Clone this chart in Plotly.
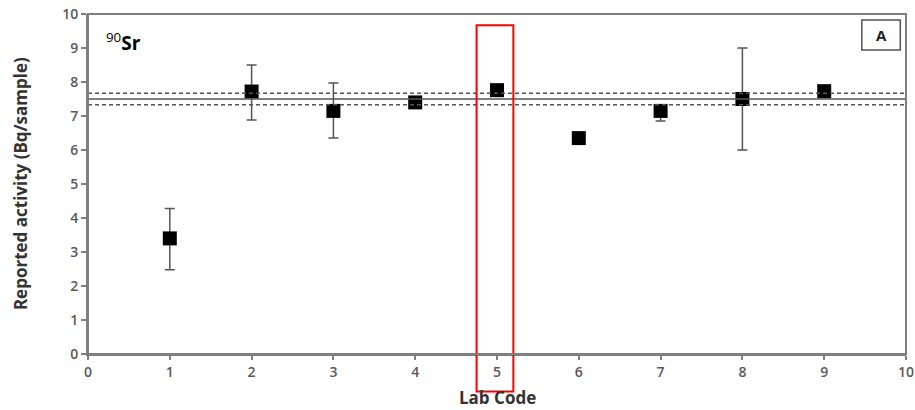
import plotly.graph_objects as go

lab_codes = [1, 2, 3, 4, 5, 6, 7, 8, 9]
activity = [3.40, 7.72, 7.15, 7.40, 7.76, 6.35, 7.15, 7.50, 7.73]
err_plus = [0.88, 0.78, 0.82, 0.12, 0.0, 0.0, 0.12, 1.50, 0.0]
err_minus = [0.92, 0.84, 0.80, 0.12, 0.0, 0.0, 0.30, 1.50, 0.0]
ref_value = 7.50
ref_low = 7.33
ref_high = 7.67
x_ticks = list(range(0, 11))
y_ticks = list(range(0, 11))

font_family = "Open Sans, Liberation Sans, sans-serif"

fig = go.Figure()

fig.add_trace(go.Scatter(
    x=lab_codes, y=activity, mode="markers",
    marker=dict(symbol="square", size=14, color="black"),
    error_y=dict(type="data", symmetric=False, array=err_plus, arrayminus=err_minus,
                 color="#555555", thickness=1.5, width=5),
    showlegend=False, hoverinfo="skip",
))

# reference lines
fig.add_hline(y=ref_value, line=dict(color="#555555", width=1.5))
fig.add_hline(y=ref_low, line=dict(color="#555555", width=1.5, dash="4px,3px"))
fig.add_hline(y=ref_high, line=dict(color="#555555", width=1.5, dash="4px,3px"))

# highlight rectangle around lab 5
fig.add_shape(type="rect", xref="x", yref="paper", x0=4.75, x1=5.2, y0=-0.11, y1=0.967,
              line=dict(color="red", width=2), fillcolor="rgba(0,0,0,0)", layer="above")

# plot frame
fig.add_shape(type="rect", xref="paper", yref="paper", x0=0, x1=1, y0=0, y1=1,
              line=dict(color="#7f7f7f", width=2), layer="above")

# panel label box
fig.add_shape(type="rect", xref="paper", yref="paper", x0=0.946, x1=0.993, y0=0.894, y1=0.982,
              line=dict(color="#555555", width=1.5), fillcolor="white", layer="above")
fig.add_annotation(xref="paper", yref="paper", x=0.9695, y=0.938, xanchor="center", yanchor="middle",
                   text="<b>A</b>", showarrow=False,
                   font=dict(family=font_family, size=15, color="#222222"))

fig.add_annotation(xref="paper", yref="paper", x=0.02, y=0.965, xanchor="left", yanchor="top",
                   text="<sup>90</sup><b>Sr</b>", showarrow=False,
                   font=dict(family=font_family, size=19, color="black"))

# axis titles
fig.add_annotation(xref="x", yref="paper", x=5, y=-0.129, xanchor="center", yanchor="middle",
                   text="<b>Lab Code</b>", showarrow=False,
                   font=dict(family=font_family, size=17, color="#333333"))
fig.add_annotation(xref="paper", yref="paper", x=-0.083, y=0.5, xanchor="center", yanchor="middle",
                   textangle=-90,
                   text="<b>Reported activity (Bq/sample)</b>", showarrow=False,
                   font=dict(family=font_family, size=17, color="#333333"))

tickfont = dict(family=font_family, size=14, color="#595959", weight=600)

fig.update_xaxes(range=[0, 10], tickvals=x_ticks, ticks="outside", ticklen=4, tickwidth=1.5,
                 tickcolor="#7f7f7f", showline=True, linecolor="#7f7f7f", linewidth=2,
                 showgrid=False, zeroline=False, automargin=False, tickfont=tickfont)
fig.update_yaxes(range=[0, 10], tickvals=y_ticks, ticks="outside", ticklen=5, tickwidth=1.5,
                 tickcolor="#7f7f7f", showline=True, linecolor="#7f7f7f", linewidth=2,
                 showgrid=False, zeroline=False, automargin=False, tickfont=tickfont)

fig.update_layout(width=915, height=410, margin=dict(l=88, r=9, t=14, b=56),
                  plot_bgcolor="white", paper_bgcolor="white", hovermode=False)

fig.write_html("out.html", config={"displayModeBar": False},
               post_script="document.body.style.margin='0';document.body.style.overflow='hidden';")
